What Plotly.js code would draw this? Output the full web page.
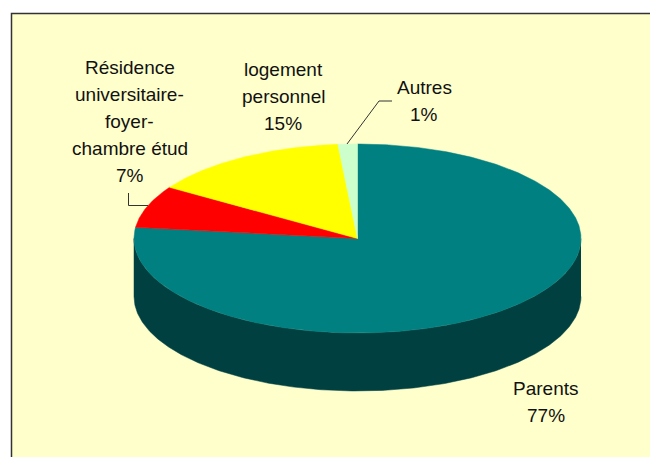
<!DOCTYPE html>
<html>
<head>
<meta charset="utf-8">
<script src="https://cdn.plot.ly/plotly-3.0.1.min.js"></script>
<style>html,body{margin:0;padding:0;background:#fff}#chart{width:650px;height:457px}</style>
</head>
<body>
<div id="chart"></div>
<script>
// Data
const categories = ["Parents", "Résidence universitaire-foyer-chambre étud", "logement personnel", "Autres"];
const percents = [76.9, 7.2, 14.5, 1.4];
const percentLabels = ["77%", "7%", "15%", "1%"];
const sliceColors = ["#008080", "#FF0000", "#FFFF00", "#CCFFCC"];
const sideColor = "#004040";
const paperFill = "#FFFFCC";
const labelLines = [
  ["Parents"],
  ["Résidence", "universitaire-", "foyer-", "chambre étud"],
  ["logement", "personnel"],
  ["Autres"]
];
const labelCenterX = [545.5, 129.5, 283, 424];
const labelTopY = [388, 67, 69, 87];
const lineStep = 27;
const fontSize = 19;

// Pie projection, in page pixels
const CX = 357.5, CY = 238.5, RX = 223.5, RY = 94.5, DEPTH = 58;
function px(deg) { return CX + RX * Math.sin(deg * Math.PI / 180); }
function py(deg, drop) { return CY + (drop || 0) - RY * Math.cos(deg * Math.PI / 180); }

const total = percents.reduce((a, b) => a + b, 0);
const traces = [];
let start = 0;
const spans = percents.map(v => { const s = [start, start + v / total * 360]; start = s[1]; return s; });

// Visible side wall: the part of each slice that faces the viewer (90 to 270 degrees)
spans.forEach((s, i) => {
  const a = Math.max(s[0], 90), b = Math.min(s[1], 270);
  if (b <= a) return;
  const xs = [], ys = [];
  for (let d = a; d <= b; d += 0.5) { xs.push(px(d)); ys.push(py(d, 0)); }
  for (let d = b; d >= a; d -= 0.5) { xs.push(px(d)); ys.push(py(d, DEPTH)); }
  traces.push({type: "scatter", mode: "lines", x: xs, y: ys, fill: "toself", fillcolor: sideColor,
    line: {width: 0.5, color: sideColor}, hoverinfo: "skip", showlegend: false});
});

// Top face
spans.forEach((s, i) => {
  const xs = [CX], ys = [CY];
  for (let d = s[0]; d < s[1]; d += 0.5) { xs.push(px(d)); ys.push(py(d)); }
  xs.push(px(s[1]), CX); ys.push(py(s[1]), CY);
  traces.push({type: "scatter", mode: "lines", x: xs, y: ys, fill: "toself", fillcolor: sliceColors[i],
    line: {width: 0.5, color: sliceColors[i]}, name: categories[i], hoverinfo: "name", showlegend: false});
});

// Leader lines
const leaderResidenceX = [128.5, 128.5, 148];
const leaderResidenceY = [193, 205.5, 205.5];
const leaderAutresX = [347, 379, 392];
const leaderAutresY = [144, 101, 101];
[[leaderResidenceX, leaderResidenceY], [leaderAutresX, leaderAutresY]].forEach(l => {
  traces.push({type: "scatter", mode: "lines", x: l[0], y: l[1],
    line: {width: 1, color: "#333333"}, hoverinfo: "skip", showlegend: false});
});

// Labels
const annotations = [];
labelLines.forEach((lines, i) => {
  lines.concat([percentLabels[i]]).forEach((t, j) => {
    annotations.push({xref: "x", yref: "y", x: labelCenterX[i], y: labelTopY[i] + j * lineStep,
      text: t, showarrow: false, xanchor: "center", yanchor: "middle",
      font: {family: "Liberation Sans, Arial, sans-serif", size: fontSize, color: "#111111"}});
  });
});

const layout = {
  width: 650, height: 457,
  margin: {l: 0, r: 0, t: 0, b: 0},
  paper_bgcolor: "#FFFFFF", plot_bgcolor: "#FFFFFF",
  showlegend: false,
  xaxis: {range: [0, 650], visible: false, fixedrange: true},
  yaxis: {range: [457, 0], visible: false, fixedrange: true},
  shapes: [
    {type: "rect", layer: "below", xref: "x", yref: "y", x0: 11.5, y0: 13.5, x1: 660, y1: 470,
     fillcolor: paperFill, line: {color: "#333333", width: 1.5}}
  ],
  annotations: annotations
};
Plotly.newPlot("chart", traces, layout, {displayModeBar: false, responsive: false});
</script>
</body>
</html>
